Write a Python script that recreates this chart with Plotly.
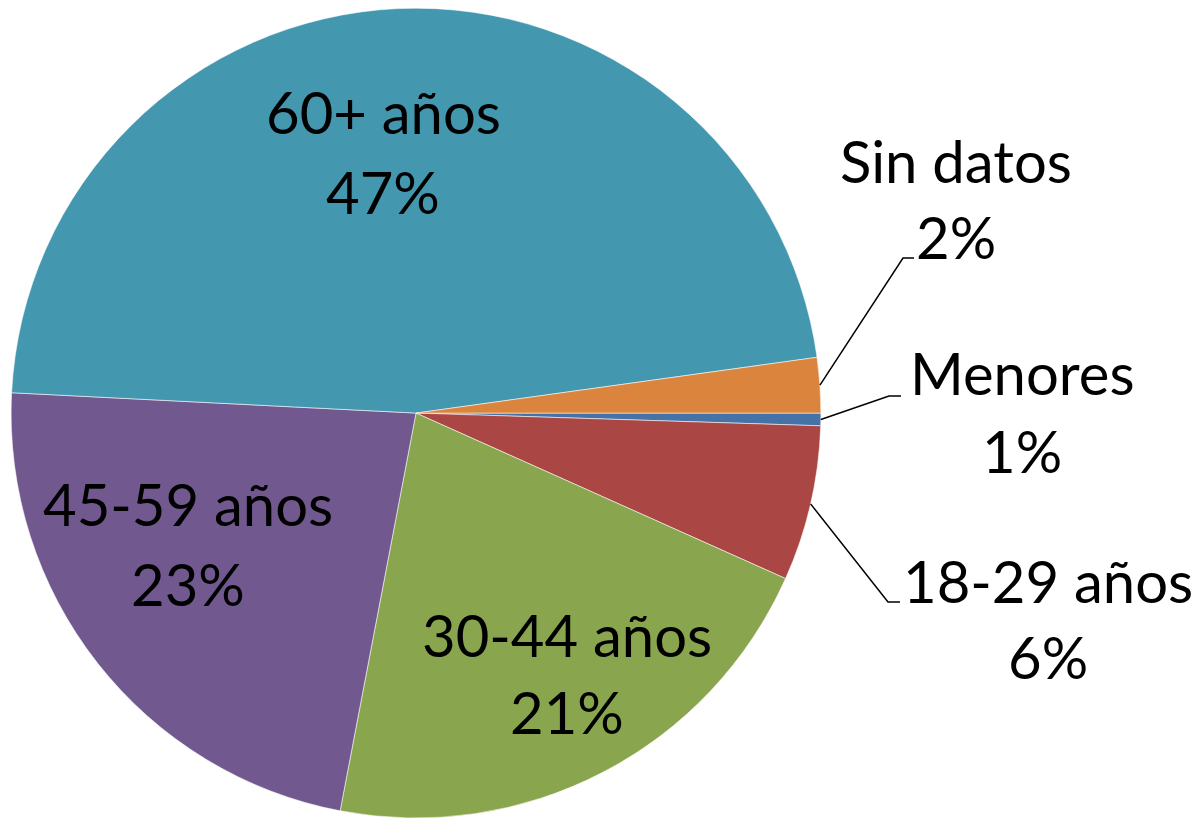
import math
import plotly.graph_objects as go

# Data (clockwise from 3 o'clock)
categories = ["Menores", "18-29 años", "30-44 años", "45-59 años", "60+ años", "Sin datos"]
values = [0.5, 6.2, 21.3, 22.8, 47.0, 2.2]
pct_labels = ["1%", "6%", "21%", "23%", "47%", "2%"]
colors = ["#4572A7", "#AA4643", "#89A54E", "#71588F", "#4398B0", "#DB843D"]

W, H = 1198, 818
FONT = "Lato"
FSIZE = 58

dom_x = [0.0092, 0.6853]
dom_y = [0.0, 0.99]

fig = go.Figure(go.Pie(
    labels=categories,
    values=values,
    sort=False,
    direction="clockwise",
    rotation=90,
    marker=dict(colors=colors, line=dict(color="rgba(255,255,255,0.55)", width=1)),
    textinfo="none",
    hoverinfo="label+percent",
    domain=dict(x=dom_x, y=dom_y),
    showlegend=False,
))

# Pie geometry in pixels
cx = W * (dom_x[0] + dom_x[1]) / 2
cy = H - H * (dom_y[0] + dom_y[1]) / 2
R = min(W * (dom_x[1] - dom_x[0]), H * (dom_y[1] - dom_y[0])) / 2

total = sum(values)
mid_angles = {}
acc = 0.0
for c, v in zip(categories, values):
    a = (acc + v / 2) / total * 360.0  # degrees clockwise from 3 o'clock
    mid_angles[c] = a
    acc += v

def px(x):
    return x / W

def py(y):
    return 1 - y / H

# Label placements: (x center, line1 y center, line2 y center) in pixels
label_pos = {
    "60+ años": (383, 114, 193),
    "45-59 años": (188, 506, 585),
    "30-44 años": (567, 636, 713),
    "Sin datos": (956, 162, 238),
    "Menores": (1022, 374, 452),
    "18-29 años": (1048, 582, 658),
}
elbows = {
    "Sin datos": ((903, 258), (914, 258)),
    "Menores": ((889, 396), (901, 396)),
    "18-29 años": ((888, 602), (900, 602)),
}

annotations = []
for c, p in zip(categories, pct_labels):
    x, y1, y2 = label_pos[c]
    for txt, yy in ((c, y1), (p, y2)):
        annotations.append(dict(
            x=px(x), y=py(yy - 2), xref="paper", yref="paper",
            text=txt, showarrow=False,
            font=dict(family=FONT, size=FSIZE, color="black"),
            align="center", xanchor="center", yanchor="middle",
        ))

shapes = []
for c, (e1, e2) in elbows.items():
    a = math.radians(mid_angles[c])
    sx = cx + R * math.cos(a)
    sy = cy + R * math.sin(a)
    path = f"M {px(sx)},{py(sy)} L {px(e1[0])},{py(e1[1])} L {px(e2[0])},{py(e2[1])}"
    shapes.append(dict(type="path", path=path, xref="paper", yref="paper",
                       line=dict(color="black", width=1.5)))

fig.update_layout(
    width=W, height=H,
    margin=dict(l=0, r=0, t=0, b=0),
    paper_bgcolor="white",
    plot_bgcolor="white",
    annotations=annotations,
    shapes=shapes,
)

fig.write_html("out.html", config={"displayModeBar": False},
               post_script="document.body.style.margin='0px';")
